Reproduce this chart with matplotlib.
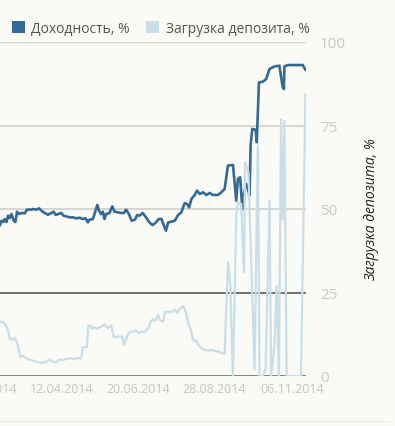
import numpy as np
import pandas as pd
import matplotlib
matplotlib.use("Agg")
import matplotlib.pyplot as plt
import matplotlib.dates as mdates
from matplotlib.ticker import FixedLocator
from matplotlib.patches import Patch
from matplotlib.lines import Line2D

base = pd.Timestamp("2014-02-15")

# yield series: days since 15.02.2014, value
yield_days = [0, 1.5, 3, 4.5, 6, 7.5, 9, 10.5, 12.5, 14, 15.5, 17, 19.5, 22.5, 24.5, 28.5,
              30, 33, 35.5, 37.5, 40.5, 43.5, 46.5, 48.5, 50.5, 52.5, 55.5, 57.5, 60, 63,
              66, 69, 72, 75, 77.5, 79.5, 81, 84, 85.5, 88, 89.5, 91.5, 93, 94.5, 96, 99,
              101.5, 103.5, 106.5, 110, 112, 114, 116.5, 119, 122, 124, 126, 129, 132, 135,
              138, 141, 143.5, 146, 147, 150, 152, 155, 158, 161, 164, 165.5, 167, 169, 171,
              173, 176, 178, 180.5, 183.5, 186.5, 189.5, 192.5, 197, 200, 203, 206, 210.5,
              212, 213.5, 215, 217, 219, 220, 222.5, 224, 225.5, 226.5, 228, 231, 232, 234,
              237.5, 240.5, 243.5, 248, 252.5, 254, 255.5, 256.5, 257, 260, 273.5, 276]
yield_vals = [45.2, 46.5, 46.1, 47.0, 46.1, 48.0, 47.3, 48.5, 46.5, 46.1, 49.2, 48.5, 48.8,
              48.7, 49.8, 49.8, 50.0, 49.8, 50.2, 49.5, 48.8, 48.3, 48.8, 49.2, 48.2, 48.5,
              48.8, 48.0, 47.8, 47.5, 47.5, 47.2, 47.4, 47.0, 47.2, 46.0, 46.8, 47.0, 48.5,
              51.2, 49.5, 48.5, 49.2, 47.0, 48.5, 48.8, 50.8, 49.2, 49.0, 48.8, 48.8, 49.8,
              48.5, 46.5, 46.8, 48.2, 48.0, 48.8, 47.5, 46.0, 45.2, 46.0, 47.0, 47.0, 46.0,
              43.5, 46.0, 46.2, 46.5, 48.2, 49.0, 50.5, 51.8, 51.5, 50.5, 53.0, 54.2, 55.5,
              54.5, 55.0, 54.2, 54.8, 54.2, 54.2, 55.0, 56.0, 63.0, 63.2, 58.0, 52.5, 59.0,
              59.5, 50.0, 54.0, 57.5, 56.0, 54.0, 69.2, 74.0, 73.7, 70.0, 87.9, 88.1, 88.9,
              91.9, 92.7, 92.9, 89.5, 86.4, 85.9, 92.7, 93.1, 93.1, 91.7]

# deposit load series
load_days = [0, 3, 5.5, 7.5, 9, 11.5, 13.5, 15.5, 17.5, 18.5, 21, 24, 27, 30, 34.5, 37.5,
             42, 44.5, 48, 51, 53.5, 57, 60, 63, 66, 69.5, 73.5, 75, 78.5, 80, 82, 83.5,
             85.5, 88, 90, 92.5, 94.5, 97.5, 100.5, 103, 106.5, 110.5, 112, 114, 117, 120,
             123, 125.5, 128, 131, 133, 134.5, 136, 138, 140.5, 143, 144.5, 147.5, 149, 152,
             155, 158, 160, 162.5, 165.5, 168, 170, 173, 174.5, 177.5, 179, 182, 185, 188,
             191, 194, 198.5, 203, 206, 208, 210.5, 213.5, 215, 218, 220.5, 221.5, 224.5,
             230, 233, 234.5, 237.5, 240, 243.5, 245, 248, 250, 252, 254, 255.5, 257, 259,
             272, 276]
load_vals = [16.3, 16.1, 15.1, 13.6, 11.1, 10.9, 11.3, 10.1, 7.1, 5.6, 6.1, 5.3, 4.9, 4.6,
             4.1, 3.9, 4.3, 4.9, 4.3, 4.1, 4.9, 4.8, 5.1, 5.3, 5.1, 5.3, 5.3, 8.6, 8.6, 15.1,
             15.1, 14.1, 14.6, 14.1, 14.6, 14.9, 15.6, 14.3, 15.1, 11.6, 11.8, 11.8, 9.3,
             11.1, 13.1, 13.3, 13.6, 12.9, 13.3, 13.1, 14.1, 14.3, 16.3, 16.9, 16.6, 18.3,
             16.6, 16.3, 19.1, 19.3, 19.1, 19.9, 18.9, 20.1, 20.9, 19.1, 16.1, 13.1, 10.6,
             10.6, 9.3, 8.3, 7.9, 7.6, 7.8, 7.6, 7.1, 6.6, 34.0, 28.1, 0, 48.0, 52.0, 51.5,
             31.0, 64.0, 61.0, 2.1, 69.0, 0, 0, 2.1, 52.5, 0, 9.1, 27.0, 0, 76.9, 47.0, 76.4,
             0, 0, 84.4]

tick_dates = ["2014-02-02", "2014-04-12", "2014-06-20", "2014-08-28", "2014-11-06"]
yticks = [0, 25, 50, 75, 100]
legend_labels = ["Доходность, %", "Загрузка депозита, %"]

dark = "#336a94"
light = "#c9dee7"
bg = "#fafaf6"

plt.rcParams["font.family"] = ["Open Sans", "DejaVu Sans"]

fig = plt.figure(figsize=(3.95, 4.27), dpi=100, facecolor=bg)
W, H = 395, 427
ax = fig.add_axes([-40 / W, (H - 377) / H, 346 / W, 334 / H], facecolor=bg)

yd = base + pd.to_timedelta(np.array(yield_days), unit="D")
ld = base + pd.to_timedelta(np.array(load_days), unit="D")

grid_cols = {0: "#777777", 25: "#666666", 50: "#cfcfcb", 75: "#cfcfcb", 100: "#d4d4d0"}
grid_w = {0: 2.0, 25: 1.3, 50: 1.2, 75: 1.2, 100: 1.6}
for v in yticks:
    ax.axhline(v, color=grid_cols[v], lw=grid_w[v], zorder=1)

ax.plot(yd, yield_vals, color=dark, lw=1.9, zorder=3)
ax.plot(ld, load_vals, color=light, lw=1.6, zorder=4)

ax.set_xlim(base - pd.Timedelta(days=36), base + pd.Timedelta(days=276.5))
ax.set_ylim(0, 100)
for s in ax.spines.values():
    s.set_visible(False)

ax.xaxis.set_major_locator(FixedLocator(mdates.date2num(pd.to_datetime(tick_dates))))
ax.xaxis.set_major_formatter(mdates.DateFormatter("%d.%m.%Y"))
ax.tick_params(axis="x", length=0, pad=4, labelsize=9, labelcolor="#c4c4c0")

ax.yaxis.tick_right()
ax.set_yticks(yticks)
ax.tick_params(axis="y", length=0, pad=10, labelsize=11, labelcolor="#c8c8c4")
ax.set_ylabel("Загрузка депозита, %", fontsize=10, style="italic", color="#222222",
              rotation=90)
ax.yaxis.set_label_position("right")
ax.yaxis.set_label_coords((364 + 40) / 346, 0.5)

handles = [Patch(facecolor=dark, edgecolor="none"), Patch(facecolor=light, edgecolor="none")]
fig.legend(handles, legend_labels, loc="upper left", bbox_to_anchor=(-1 / W, 1 - 9 / H),
           ncol=2, frameon=False, fontsize=10, handlelength=0.95, handleheight=0.95,
           handletextpad=0.45, columnspacing=1.2, labelcolor="#555555")

fig.add_artist(Line2D([0, 389 / W], [1 - 422 / H] * 2, color="#ebebe7", lw=1,
                      transform=fig.transFigure))

fig.savefig("out.png", dpi=100, facecolor=bg)
